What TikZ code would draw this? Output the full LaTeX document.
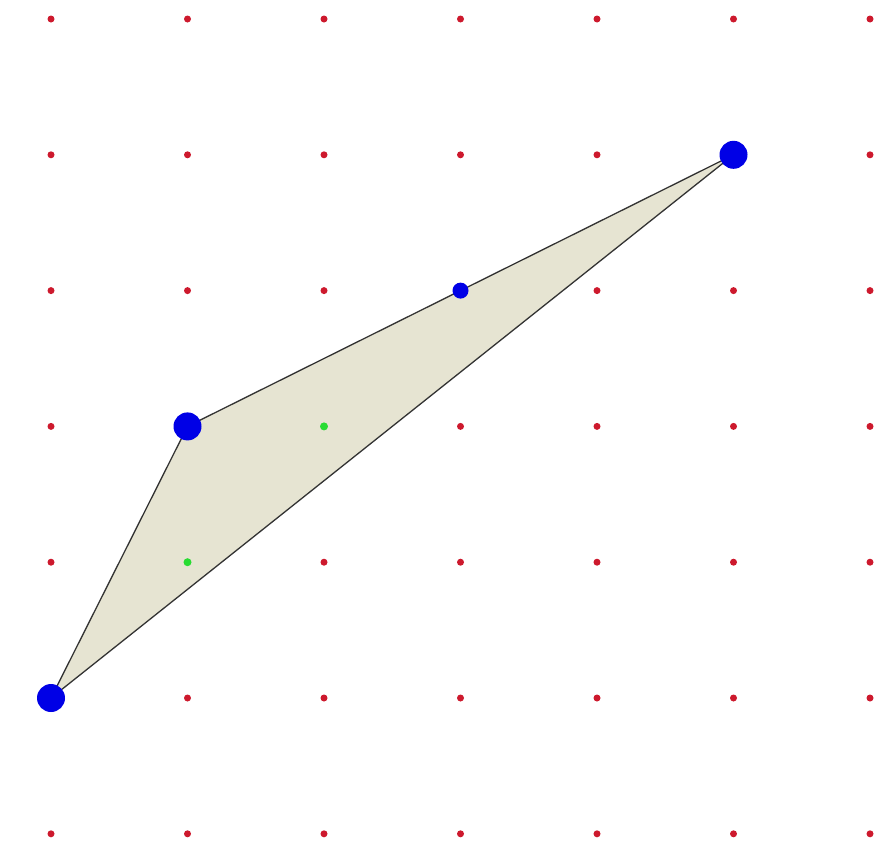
\documentclass[tikz,border=0pt]{standalone}
\definecolor{gridred}{RGB}{205,25,45}
\definecolor{polyfill}{RGB}{230,228,210}
\definecolor{vblue}{RGB}{0,0,230}
\definecolor{cgreen}{RGB}{40,220,50}
\begin{document}
\begin{tikzpicture}[x=1pt,y=-1pt,
  griddot/.style={fill=gridred},
  bigdot/.style={fill=vblue},
  greendot/.style={fill=cgreen}]
\useasboundingbox (0,0) rectangle (888,849);
\fill[white] (0,0) rectangle (888,849);
\foreach \i in {0,...,6}{
  \foreach \j in {0,...,6}{
    \fill[griddot] ({51+136.5*\i},{19+135.8*\j}) circle (3.5);
  }
}
\coordinate (A) at (51,{19+135.8*5});
\coordinate (B) at ({51+136.5},{19+135.8*3});
\coordinate (C) at ({51+136.5*5},{19+135.8});
\coordinate (M) at ({51+136.5*3},{19+135.8*2});
\coordinate (G1) at ({51+136.5*2},{19+135.8*3});
\coordinate (G2) at ({51+136.5},{19+135.8*4});
\filldraw[fill=polyfill,draw=black!80,line width=1.3pt,line join=round] (A) -- (B) -- (C) -- cycle;
\fill[greendot] (G1) circle (4);
\fill[greendot] (G2) circle (4);
\fill[bigdot] (A) circle (14);
\fill[bigdot] (B) circle (14);
\fill[bigdot] (C) circle (14);
\fill[bigdot] (M) circle (8);
\end{tikzpicture}
\end{document}
